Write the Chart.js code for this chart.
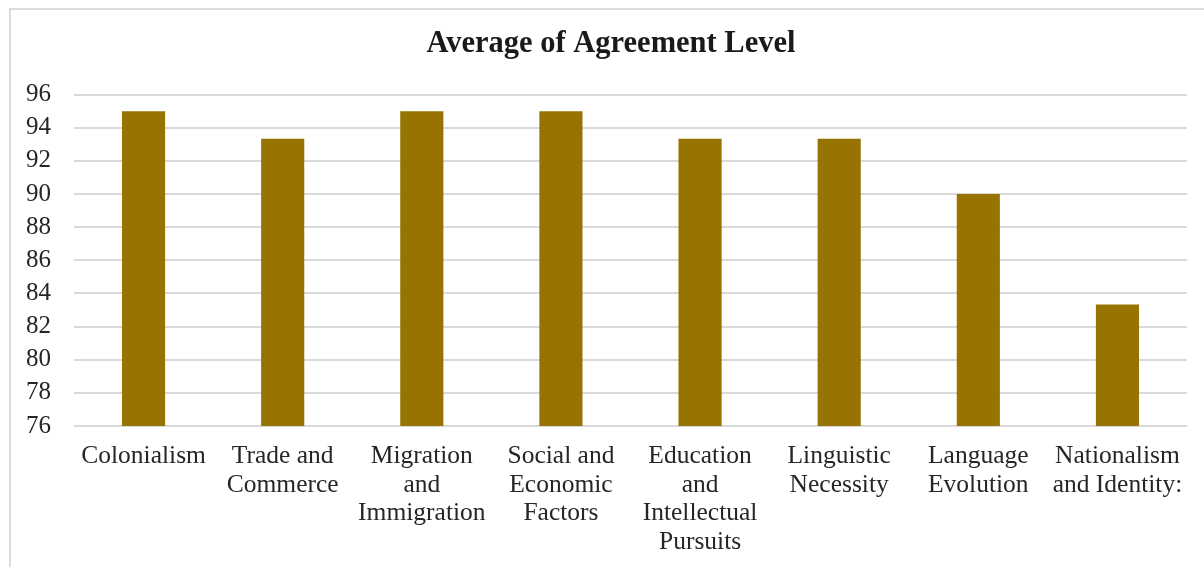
<!DOCTYPE html>
<html>
<head>
<meta charset="utf-8">
<script src="https://cdn.jsdelivr.net/npm/chart.js@4"></script>
<style>
    body { margin: 0; background: #fff; }
    #caixa { position: absolute; left: 0; top: 0; width: 1204px; height: 567px; }
    #moldura { position: absolute; left: 9px; top: 8px; width: 1300px; height: 700px;
        border-left: 2px solid #dcdcdc; border-top: 2px solid #dcdcdc; pointer-events: none; }
</style>
</head>
<body>
<div id="caixa"><canvas id="grafico"></canvas></div>
<div id="moldura"></div>
<script>
// dados
const categorias = [
    ['Colonialism'],
    ['Trade and', 'Commerce'],
    ['Migration', 'and', 'Immigration'],
    ['Social and', 'Economic', 'Factors'],
    ['Education', 'and', 'Intellectual', 'Pursuits'],
    ['Linguistic', 'Necessity'],
    ['Language', 'Evolution'],
    ['Nationalism', 'and Identity:']
];
const valores = [95, 93.33, 95, 95, 93.33, 93.33, 90, 83.33];
const eixoY = { min: 76, max: 96, passo: 2 };
const titulo = 'Average of Agreement Level';

const fonte = 'Liberation Serif, Times New Roman, serif';

const ctx = document.getElementById('grafico').getContext('2d');
new Chart(ctx, {
    type: 'bar',
    data: {
        labels: categorias,
        datasets: [{
            label: titulo,
            data: valores,
            backgroundColor: '#977301',
            borderWidth: 0,
            categoryPercentage: 1,
            barPercentage: 0.31
        }]
    },
    options: {
        responsive: true,
        maintainAspectRatio: false,
        animation: false,
        // padding esquerdo só para centrar o título como no original
        layout: { padding: { left: 35, right: 17, top: 0, bottom: 0 } },
        plugins: {
            legend: { display: false },
            tooltip: { enabled: false },
            title: {
                display: true,
                text: titulo,
                color: '#1a1a1a',
                font: { family: fonte, size: 30.5, weight: 'bold', lineHeight: 1.2 },
                padding: { top: 26, bottom: 32 }
            }
        },
        scales: {
            x: {
                grid: { display: false, drawTicks: false },
                border: { display: false },
                ticks: {
                    color: '#262626',
                    font: { family: fonte, size: 25.5, lineHeight: 1.12 },
                    padding: 16,
                    maxRotation: 0,
                    autoSkip: false
                },
                afterFit: (scale) => { scale.height = 141; }
            },
            y: {
                min: eixoY.min,
                max: eixoY.max,
                grid: { color: '#d9d9d9', lineWidth: 2, drawTicks: false },
                border: { display: false },
                ticks: {
                    stepSize: eixoY.passo,
                    color: '#262626',
                    font: { family: fonte, size: 25 },
                    // mirror + padding negativo para os rótulos não serem cortados
                    mirror: true,
                    padding: -48
                },
                afterFit: (scale) => { scale.width = 39; }
            }
        }
    }
});
</script>
</body>
</html>
